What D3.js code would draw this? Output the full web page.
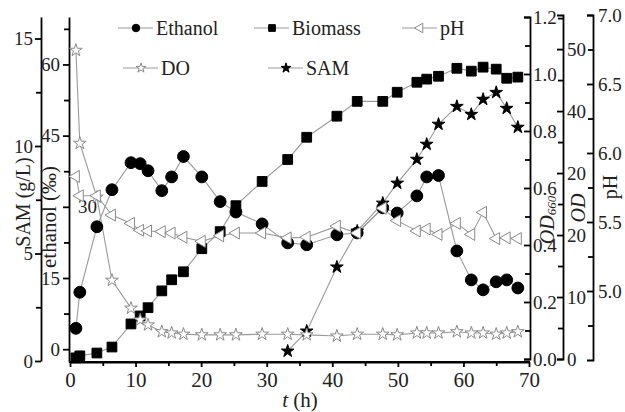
<!DOCTYPE html>
<html><head><meta charset="utf-8">
<script src="https://cdn.jsdelivr.net/npm/d3@7/dist/d3.min.js"></script>
<style>
body{margin:0;background:#fff;}
svg text{font-family:"Liberation Serif","Times New Roman",serif !important;}
.axis path,.axis line{stroke:#000;stroke-width:1.8;}
.axis text{fill:#222;}
</style></head>
<body><svg id="c" width="625" height="412"></svg>
<script>
// ---- data ----
const time = [0.9,1.5,4.1,6.4,9.3,10.7,11.9,14.0,15.5,17.3,20.1,22.9,25.3,29.3,33.2,36.1,40.7,43.8,47.7,49.9,52.9,54.4,56.2,59.0,61.2,63.0,65.0,66.6,68.3];
const ethanol = [4.4,12.0,25.8,33.6,39.3,39.1,37.6,33.4,36.3,40.6,36.3,31.1,28.9,26.4,22.4,22.0,24.1,24.5,29.8,28.7,32.3,36.3,36.6,20.7,14.6,12.5,14.2,14.6,12.9];
const biomass = [0.004,0.011,0.021,0.042,0.123,0.151,0.180,0.239,0.278,0.306,0.387,0.447,0.538,0.623,0.700,0.778,0.852,0.904,0.904,0.936,0.971,0.982,0.992,1.020,1.010,1.024,1.017,0.985,0.989];
const pH = [5.83,5.69,5.69,5.55,5.49,5.44,5.435,5.43,5.42,5.39,5.36,5.40,5.42,5.42,5.385,5.39,5.47,5.42,5.60,5.51,5.435,5.45,5.41,5.49,5.41,5.57,5.38,5.385,5.38];
const DO = [49.8,34.8,26.1,12.7,8.2,6.3,5.5,4.4,4.2,4.0,3.9,3.9,3.9,4.0,4.0,3.9,3.7,4.0,4.0,3.9,4.2,4.2,4.2,4.4,4.2,4.2,4.0,4.2,4.4];
const samTime = [33.2,36.1,40.7,43.8,47.7,49.9,52.9,54.4,56.2,59.0,61.2,63.0,65.0,66.6,68.3];
const SAM = [0.46,1.39,4.37,6.04,7.34,8.27,9.38,10.08,11.01,11.84,11.47,12.17,12.49,11.75,10.87];

const xTicks = [0,10,20,30,40,50,60,70];
const samTicks = [0,5,10,15];
const ethTicks = [0,15,30,45,60];
const od660Ticks = [0,0.2,0.4,0.6,0.8,1.0,1.2];
const odTicks = [0,10,20,30,40,50];
const odTickLabels = ["0","10","20","20","40","50"];
const phTicks = [5.0,5.5,6.0,6.5,7.0];
const legendNames = ["Ethanol","Biomass","pH","DO","SAM"];

// ---- scales ----
const svg = d3.select("#c");
const x = d3.scaleLinear().domain([0,70]).range([70,529]);
const ySam = d3.scaleLinear().domain([0,16]).range([361,17]);
const yEth = d3.scaleLinear().domain([-2.7,70]).range([362,17]);
const yOd660 = d3.scaleLinear().domain([0,1.2]).range([359,17]);
const yOd = d3.scaleLinear().domain([0,55.5]).range([359,15]);
const yPh = d3.scaleLinear().domain([4.5,7.0]).range([360,15]);

const lineCol = "#9a9a9a";

function minorAxis(axis, vals){ return axis.tickValues(vals).tickFormat("").tickSizeOuter(0); }

// x axis
const gx = svg.append("g").attr("class","axis").attr("transform","translate(0,362)");
gx.call(d3.axisBottom(x).tickValues(xTicks).tickSize(5).tickSizeOuter(0).tickPadding(5).tickFormat(d3.format("d")));
gx.selectAll("text").attr("font-size",21);
svg.append("g").attr("class","axis").attr("transform","translate(0,362)")
  .call(minorAxis(d3.axisBottom(x).tickSize(4), d3.range(5,70,10))).select("path").remove();
svg.append("line").attr("x1",69).attr("x2",530).attr("y1",362).attr("y2",362).attr("stroke","#000").attr("stroke-width",1.8);

// SAM axis (left outer)
const gs = svg.append("g").attr("class","axis").attr("transform","translate(41,0)");
gs.call(d3.axisLeft(ySam).tickValues(samTicks).tickSize(6).tickSizeOuter(0).tickPadding(2));
gs.selectAll("text").attr("font-size",19);
svg.append("g").attr("class","axis").attr("transform","translate(41,0)")
  .call(minorAxis(d3.axisLeft(ySam).tickSize(5),[2.5,7.5,12.5])).select("path").remove();

// ethanol axis
const ge = svg.append("g").attr("class","axis").attr("transform","translate(69,0)");
ge.call(d3.axisLeft(yEth).tickValues(ethTicks).tickSize(6).tickSizeOuter(0).tickPadding(3));
ge.selectAll("text").attr("font-size",19);
ge.selectAll(".tick").filter(d=>d===30).select("text").attr("text-anchor","start").attr("x",9);
svg.append("g").attr("class","axis").attr("transform","translate(69,0)")
  .call(minorAxis(d3.axisLeft(yEth).tickSize(5),[7.5,22.5,37.5,52.5,67.5])).select("path").remove();

// right axes (inward ticks)
function rightAxis(xpos, scale, ticks, minor, fmt, pad){
  const g = svg.append("g").attr("class","axis").attr("transform",`translate(${xpos},0)`);
  g.call(d3.axisRight(scale).tickValues(ticks).tickSizeInner(-6).tickSizeOuter(-6).tickPadding(pad).tickFormat(fmt));
  g.selectAll("text").attr("font-size",19);
  const m = svg.append("g").attr("class","axis").attr("transform",`translate(${xpos},0)`);
  m.call(d3.axisRight(scale).tickValues(minor).tickSizeInner(-5).tickFormat(""));
  m.select("path").remove();
  return g;
}
rightAxis(530, yOd660, od660Ticks, [0.1,0.3,0.5,0.7,0.9,1.1], d3.format(".1f"), 3);
rightAxis(563, yOd, odTicks, [5,15,25,35,45,55], (d,i)=>odTickLabels[i], 4);
rightAxis(593, yPh, phTicks, [4.75,5.25,5.75,6.25,6.75], d3.format(".1f"), 5);

// axis titles
function vtitle(cx, cy, size){
  return svg.append("text").attr("transform",`translate(${cx},${cy}) rotate(-90)`)
    .attr("text-anchor","middle").attr("dominant-baseline","central").attr("font-size",size).attr("fill","#222");
}
vtitle(23,202,20).text("SAM (g/L)");
vtitle(49,217,21).text("ethanol (‰)");
const t660 = vtitle(547,220,20).attr("font-style","italic");
t660.append("tspan").text("OD");
t660.append("tspan").attr("font-size",13).attr("dy",4).text("660");
vtitle(578,208,20).attr("font-style","italic").text("OD");
vtitle(610,187,20).text("pH");
const xt = svg.append("text").attr("x",300).attr("y",407).attr("text-anchor","middle").attr("font-size",21).attr("fill","#222");
xt.append("tspan").attr("font-style","italic").text("t");
xt.append("tspan").text(" (h)");

// ---- series ----
const sym = {
  circle: d3.symbol().type(d3.symbolCircle).size(110),
  square: d3.symbol().type(d3.symbolSquare).size(95),
  tri: d3.symbol().type(d3.symbolTriangle).size(62),
  star: d3.symbol().type(d3.symbolStar).size(50)
};
function series(xs, ys, yScale){
  const pts = xs.map((t,i)=>[x(t), yScale(ys[i])]);
  svg.append("path").attr("d", d3.line()(pts)).attr("fill","none").attr("stroke",lineCol).attr("stroke-width",1.1);
  return pts;
}
function markers(pts, shape, fill, stroke, rot){
  svg.append("g").selectAll("path").data(pts).join("path")
    .attr("d", sym[shape]).attr("transform", d=>`translate(${d[0]},${d[1]}) rotate(${rot||0})`)
    .attr("fill",fill).attr("stroke",stroke).attr("stroke-width",1);
}
const pB = series(time, biomass, yOd660);
const pE = series(time, ethanol, yEth);
const pS = series(samTime, SAM, ySam);
const pD = series(time, DO, yOd);
const pP = series(time, pH, yPh);
markers(pB,"square","#000","#000");
markers(pE,"circle","#000","#000");
markers(pS,"star","#000","#000");
markers(pD,"star","#fff","#8a8a8a");
markers(pP,"tri","#fff","#8a8a8a",-90);

// ---- legend ----
const legendItems = [
  {name:legendNames[0], shape:"circle", fill:"#000", stroke:"#000", x:118, y:28, sz:45},
  {name:legendNames[1], shape:"square", fill:"#000", stroke:"#000", x:254, y:28, sz:45},
  {name:legendNames[2], shape:"tri", fill:"#fff", stroke:"#8a8a8a", x:402, y:28, sz:40, rot:-90},
  {name:legendNames[3], shape:"star", fill:"#fff", stroke:"#8a8a8a", x:123, y:68, sz:30},
  {name:legendNames[4], shape:"star", fill:"#000", stroke:"#000", x:268, y:68, sz:30}
];
const symTypes = {circle:d3.symbolCircle,square:d3.symbolSquare,tri:d3.symbolTriangle,star:d3.symbolStar};
const lg = svg.append("g").selectAll("g").data(legendItems).join("g")
  .attr("transform", d=>`translate(${d.x},${d.y})`);
lg.append("line").attr("x1",0).attr("x2",35).attr("stroke",lineCol).attr("stroke-width",1.1);
lg.append("path").attr("d", d=>d3.symbol().type(symTypes[d.shape]).size(d.sz)())
  .attr("transform", d=>`translate(18,0) rotate(${d.rot||0})`)
  .attr("fill",d=>d.fill).attr("stroke",d=>d.stroke);
lg.append("text").attr("x",38).attr("dominant-baseline","central").attr("font-size",20).attr("fill","#222").text(d=>d.name);
</script></body></html>
